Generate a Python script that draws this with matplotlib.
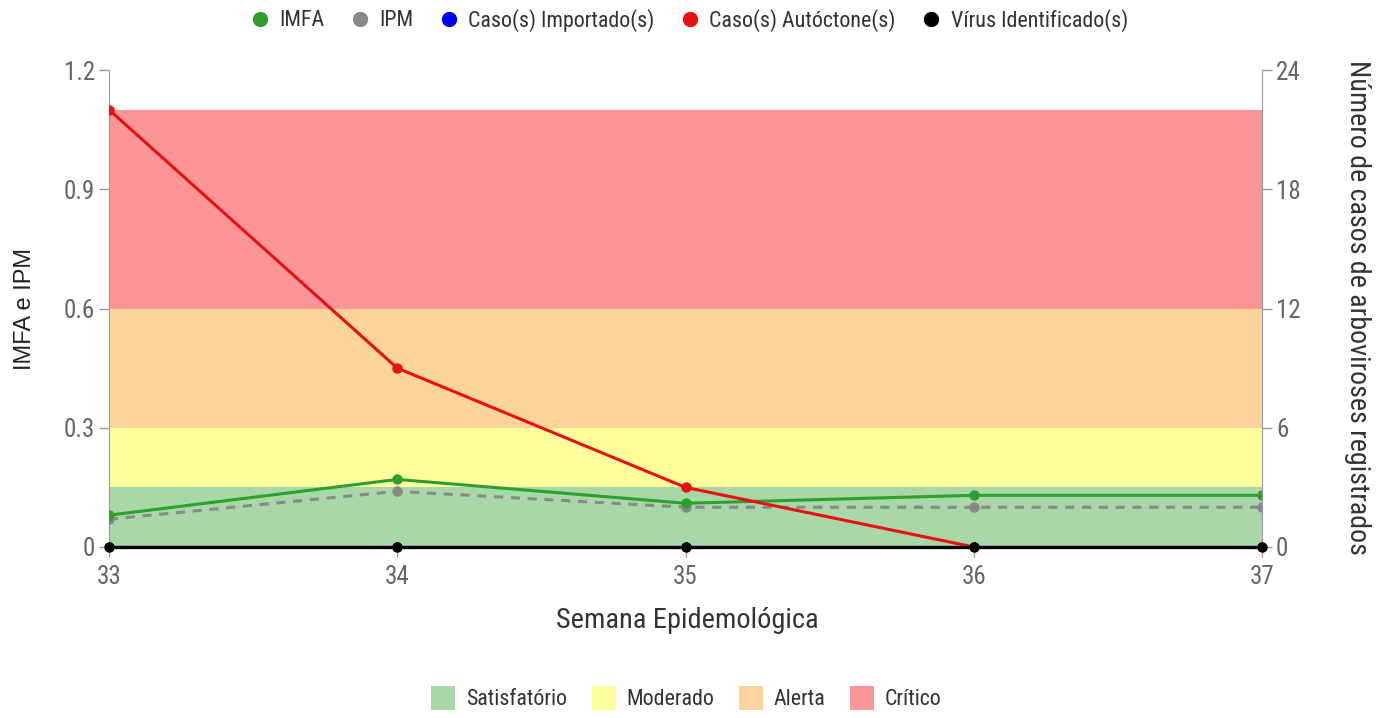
import matplotlib
matplotlib.use("Agg")
import matplotlib.pyplot as plt
from matplotlib.lines import Line2D
from matplotlib.patches import Patch
from matplotlib import font_manager
import numpy as np

weeks = [33, 34, 35, 36, 37]
imfa = [0.08, 0.17, 0.11, 0.13, 0.13]
ipm = [0.07, 0.14, 0.10, 0.10, 0.10]
importados = [0, 0, 0, 0, 0]
autoctones = [22, 9, 3, 0, np.nan]
virus = [0, 0, 0, 0, 0]

band_labels = ["Satisfatório", "Moderado", "Alerta", "Crítico"]
band_edges = [0, 0.15, 0.3, 0.6, 1.1]
band_colors = ["#a8d8a8", "#ffff9e", "#fad49a", "#fc9597"]

left_ticks = [0, 0.3, 0.6, 0.9, 1.2]
left_ticklabels = ["0", "0.3", "0.6", "0.9", "1.2"]
right_ticks = [0, 6, 12, 18, 24]

series_labels = ["IMFA", "IPM", "Caso(s) Importado(s)", "Caso(s) Autóctone(s)", "Vírus Identificado(s)"]

# choose a condensed font if one is installed
names = {f.name for f in font_manager.fontManager.ttflist}
cond = None
for cand in ["Roboto Condensed", "Liberation Sans Narrow", "Open Sans Condensed", "DejaVu Sans Condensed"]:
    if cand in names:
        cond = cand
        break
if cond is None:
    fam = ["Roboto", "DejaVu Sans"]
    k = 0.87
else:
    fam = [cond, "DejaVu Sans"]
    k = 1.0

plt.rcParams['font.family'] = fam
tick_color = "#666666"

W, H = 1391, 718
fig = plt.figure(figsize=(W/100, H/100), dpi=100)
ax = fig.add_axes([109/W, 1-547/H, (1262-109)/W, (547-70)/H])
ax2 = ax.twinx()

for i, lab in enumerate(band_labels):
    ax.axhspan(band_edges[i], band_edges[i+1], color=band_colors[i], lw=0, zorder=0)

ax.plot(weeks, ipm, color="#888888", lw=2.2, ls=(0, (3, 2.5)), marker="o", ms=6.5, zorder=3)
ax.plot(weeks, imfa, color="#2e9e2e", lw=2.2, marker="o", ms=6.5, zorder=4)

ax2.plot(weeks, importados, color="#0000ee", lw=2.2, marker="o", ms=6.5, zorder=3)
ax2.plot(weeks, autoctones, color="#e81010", lw=2.2, marker="o", ms=6.5, zorder=4)
ax2.plot(weeks, virus, color="#000000", lw=2.4, marker="o", ms=6.5, zorder=5, clip_on=False)

ax.set_xlim(weeks[0], weeks[-1])
ax.set_ylim(0, 1.2)
ax2.set_ylim(0, 24)
ax.set_xticks(weeks)
ax.set_yticks(left_ticks)
ax.set_yticklabels(left_ticklabels)
ax2.set_yticks(right_ticks)

for a in (ax, ax2):
    for s in ["top", "bottom"]:
        a.spines[s].set_visible(False)
    a.spines["left"].set_color("#999999")
    a.spines["right"].set_color("#999999")
    a.tick_params(colors="#999999", labelcolor=tick_color, labelsize=18*k, length=7, width=1, pad=3)
ax.spines["right"].set_visible(False)
ax2.spines["left"].set_visible(False)
ax.tick_params(axis="x", pad=6)
ax.patch.set_visible(False)
ax.set_zorder(1)
ax2.set_zorder(2)

fig.text(687/W, 1-620/H, "Semana Epidemológica", fontsize=20.4*k, color="#333333", ha="center", va="center")
fig.text(25/W, 1-309/H, "IMFA e IPM", fontsize=17, color="#222222", rotation=90,
         family=["Liberation Sans", "DejaVu Sans"], ha="center", va="center")
fig.text(1357/W, 1-307/H, "Número de casos de arboviroses registrados", fontsize=20.2*k, color="#333333",
         rotation=270, ha="center", va="center")

top_colors = ["#2e9e2e", "#888888", "#0000ee", "#e81010", "#000000"]
top_handles = [Line2D([], [], ls="none", marker="o", ms=10, color=c) for c in top_colors]
fig.legend(top_handles, series_labels, loc="center", bbox_to_anchor=(0.494, 0.972), ncol=5,
           frameon=False, fontsize=15.8*k, handletextpad=0.3, handlelength=1.2, columnspacing=1.0,
           labelcolor="#333333")

band_handles = [Patch(facecolor=c, edgecolor="none") for c in band_colors]
fig.legend(band_handles, band_labels, loc="center", bbox_to_anchor=(0.4935, 0.028), ncol=4,
           frameon=False, fontsize=15.8*k, handlelength=1.1, handleheight=1.3, handletextpad=0.5,
           columnspacing=1.1, labelcolor="#333333")

fig.savefig("out.png", dpi=100)
